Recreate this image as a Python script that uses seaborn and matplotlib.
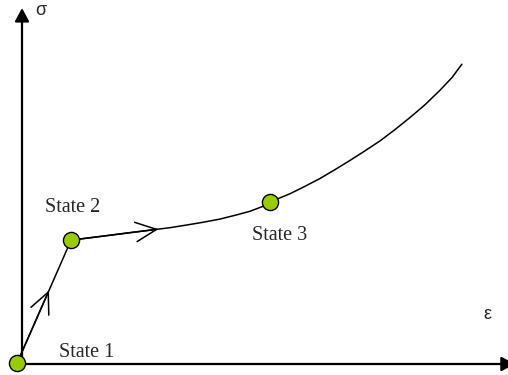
import matplotlib
matplotlib.use("Agg")
import matplotlib.pyplot as plt
import numpy as np
import pandas as pd
import seaborn as sns

# Stress-strain path: State 1 -> State 2 (linear), then hardening curve through State 3
state_names = ["State 1", "State 2", "State 3"]
state_strain = [-0.10, 1.01, 5.10]
state_stress = [0.03, 3.48, 4.55]

curve_strain = [1.01, 1.60, 2.22, 3.05, 3.37, 3.72, 4.07, 4.42, 4.69, 4.96, 5.10,
                5.51, 5.82, 6.13, 6.44, 6.75, 7.06, 7.37, 7.67, 7.98, 8.29, 8.60,
                8.85, 9.05]
curve_stress = [3.48, 3.58, 3.69, 3.83, 3.90, 3.98, 4.07, 4.19, 4.29, 4.43, 4.55,
                4.78, 4.99, 5.21, 5.46, 5.72, 5.99, 6.27, 6.58, 6.92, 7.28, 7.69,
                8.05, 8.42]

axis_x_end = 10.14
axis_y_end = 10.0

sns.set_style("white")
plt.rcParams["font.family"] = ["Liberation Serif", "DejaVu Serif"]

fig = plt.figure(figsize=(5.08, 3.75), dpi=100)
ax = fig.add_axes([0, 0, 1, 1])

path = pd.DataFrame({
    "strain": [state_strain[0]] + curve_strain,
    "stress": [state_stress[0]] + curve_stress,
})
sns.lineplot(data=path, x="strain", y="stress", sort=False, estimator=None,
             color="black", linewidth=1.1, ax=ax, zorder=2)

# direction markers along the loading path
def chevron(p0, p1, frac):
    tip = (p0[0] + frac * (p1[0] - p0[0]), p0[1] + frac * (p1[1] - p0[1]))
    ax.annotate("", xy=tip, xytext=p0,
                arrowprops=dict(arrowstyle="->,head_length=1.5,head_width=0.7",
                                color="black", lw=1.1, shrinkA=0, shrinkB=0,
                                mutation_scale=10), zorder=2)

chevron((state_strain[0], state_stress[0]), (state_strain[1], state_stress[1]), 0.59)
chevron((curve_strain[0], curve_stress[0]), (curve_strain[3], curve_stress[3]), 0.88)

# coordinate axes drawn as arrows
axis_props = dict(arrowstyle="-|>,head_length=0.8,head_width=0.43", color="black",
                  lw=1.6, shrinkA=0, shrinkB=0, mutation_scale=10)
ax.annotate("", xy=(0, axis_y_end), xytext=(0, 0), arrowprops=axis_props,
            zorder=1, annotation_clip=False)
ax.annotate("", xy=(axis_x_end, 0), xytext=(0, 0), arrowprops=axis_props,
            zorder=1, annotation_clip=False)

states = pd.DataFrame({"strain": state_strain, "stress": state_stress, "name": state_names})
sns.scatterplot(data=states, x="strain", y="stress", s=135, color="#99cc00",
                edgecolor="black", linewidth=1.0, ax=ax, zorder=3, legend=False)

label_offsets = {"State 1": (30, 4), "State 2": (-19, 20), "State 3": (-13, -27)}
for name, sx, sy in zip(state_names, state_strain, state_stress):
    ax.annotate(name, xy=(sx, sy), xytext=label_offsets[name], textcoords="offset points",
                ha="left", va="baseline", fontsize=14.5)

ax.text(0.28, 9.80, "σ", ha="left", va="baseline", fontsize=13,
        family=["Liberation Sans", "DejaVu Sans"])
ax.text(9.57, 1.38, "ε", ha="center", va="center", fontsize=13,
        family=["Liberation Sans", "DejaVu Sans"])

ax.set_xlim(-0.453, 10.0)
ax.set_ylim(-0.309, 10.225)
ax.set_axis_off()

fig.savefig("out.png", dpi=100)
